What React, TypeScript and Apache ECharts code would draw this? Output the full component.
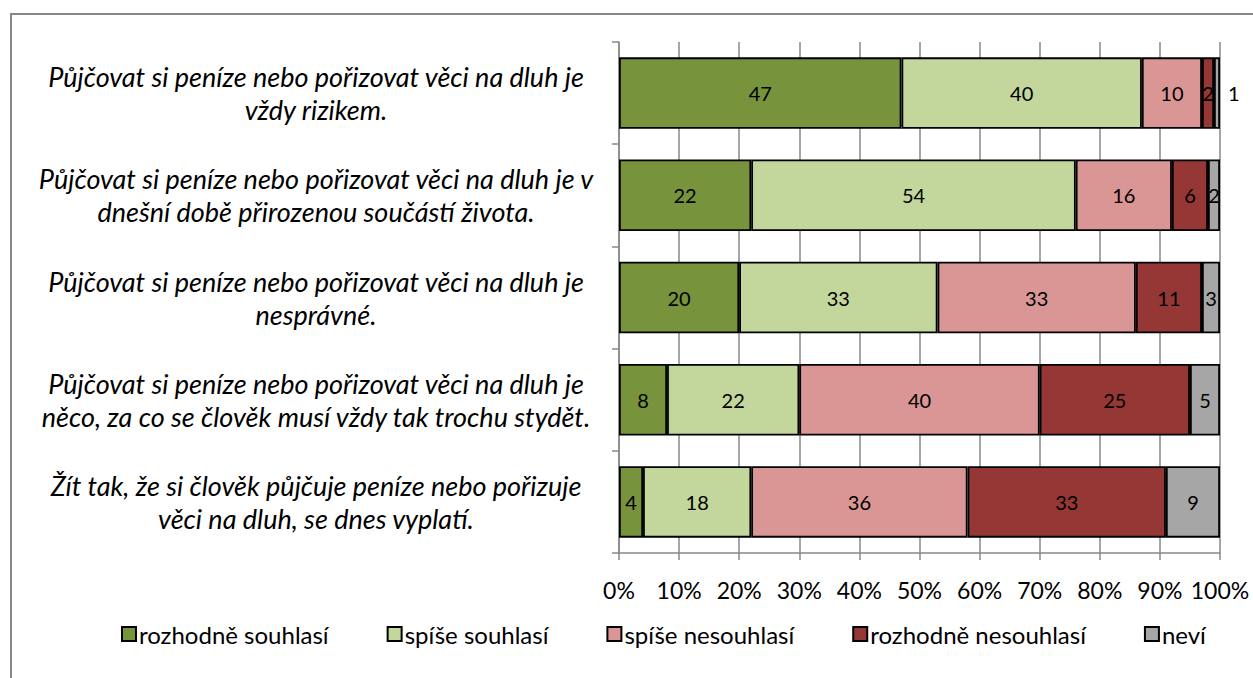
import React, { useEffect, useRef } from "react";
import * as echarts from "echarts";

const categories = [
  "Půjčovat si peníze nebo pořizovat věci na dluh je\nvždy rizikem.",
  "Půjčovat si peníze nebo pořizovat věci na dluh je v\ndnešní době přirozenou součástí života.",
  "Půjčovat si peníze nebo pořizovat věci na dluh je\nnesprávné.",
  "Půjčovat si peníze nebo pořizovat věci na dluh je\nněco, za co se člověk musí vždy tak trochu stydět.",
  "Žít tak, že si člověk půjčuje peníze nebo pořizuje\nvěci na dluh, se dnes vyplatí.",
];
const seriesNames = ["rozhodně souhlasí", "spíše souhlasí", "spíše nesouhlasí", "rozhodně nesouhlasí", "neví"];
const rozhodneSouhlasi = [47, 22, 20, 8, 4];
const spiseSouhlasi = [40, 54, 33, 22, 18];
const spiseNesouhlasi = [10, 16, 33, 40, 36];
const rozhodneNesouhlasi = [2, 6, 11, 25, 33];
const nevi = [1, 2, 3, 5, 9];
const colors = ["#77933C", "#C3D69B", "#D99694", "#953735", "#A6A6A6"];

const FONT = "Lato, 'Open Sans', sans-serif";

export default function App() {
  const ref = useRef<HTMLDivElement>(null);
  useEffect(() => {
    if (!ref.current) return;
    const chart = echarts.init(ref.current, null, { renderer: "svg" });
    const all = [rozhodneSouhlasi, spiseSouhlasi, spiseNesouhlasi, rozhodneNesouhlasi, nevi];
    const series = all.map((vals, i) => ({
      name: seriesNames[i],
      type: "bar",
      stack: "total",
      barCategoryGap: "30%",
      itemStyle: { color: colors[i], borderColor: "#000", borderWidth: 1.8 },
      label: {
        show: true,
        position: "inside",
        color: "#000",
        fontSize: 20,
        fontFamily: FONT,
      },
      data: vals.map((v, j) =>
        i === 4 && j === 0
          ? { value: v, label: { position: "right", distance: 8 } }
          : v
      ),
    }));
    chart.setOption({
      animation: false,
      textStyle: { fontFamily: FONT },
      grid: { left: 619, right: 33, top: 42, bottom: 125 },
      graphic: [
        {
          type: "rect",
          shape: { x: 11, y: 14, width: 1260, height: 700 },
          style: { fill: "none", stroke: "#888", lineWidth: 2 },
          silent: true,
        },
      ],
      legend: {
        top: 617,
        left: 116,
        icon: "rect",
        itemWidth: 14,
        itemHeight: 14,
        itemGap: 58,
        textStyle: { fontSize: 24, color: "#000", fontFamily: FONT, padding: [0, 0, 0, -2] },
        data: seriesNames,
      },
      xAxis: {
        type: "value",
        min: 0,
        max: 100,
        interval: 10,
        axisLine: { show: true, lineStyle: { color: "#888", width: 1.5 } },
        axisTick: { show: true, length: 7, lineStyle: { color: "#888", width: 1.5 } },
        splitLine: { show: true, lineStyle: { color: "#888", width: 1.5 } },
        axisLabel: {
          formatter: "{value}%",
          color: "#000",
          fontSize: 23,
          margin: 25,
          fontFamily: FONT,
        },
      },
      yAxis: {
        type: "category",
        inverse: true,
        data: categories,
        axisLine: { show: true, lineStyle: { color: "#888", width: 1.5 } },
        axisTick: { show: true, length: 7, lineStyle: { color: "#888", width: 1.5 } },
        axisLabel: {
          align: "center",
          margin: 303,
          color: "#000",
          fontSize: 27,
          fontStyle: "italic",
          lineHeight: 33,
          fontFamily: FONT,
        },
      },
      series,
    });
    return () => chart.dispose();
  }, []);
  return (
    <div
      ref={ref}
      style={{ position: "fixed", left: 0, top: 0, width: 1253, height: 678, background: "#fff" }}
    />
  );
}
